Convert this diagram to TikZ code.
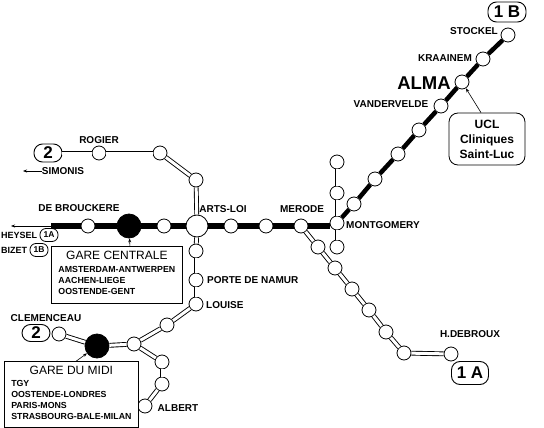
\documentclass[tikz,border=0pt]{standalone}
\usepackage{fontspec}
\setmainfont{Liberation Sans}
\usetikzlibrary{arrows.meta, positioning, calc}

\begin{document}
\begin{tikzpicture}[
  x=1pt, y=-1pt,
  stn/.style={draw, circle, fill=white, line width=0.8pt, inner sep=0pt, minimum size=14pt},
  stnBig/.style={stn, minimum size=22pt},
  stnGare/.style={stn, fill=black, minimum size=24pt},
  tube/.style={draw, line width=0.9pt, double=white, double distance=3pt},
  metro/.style={draw, line width=6pt},
  metroDiag/.style={draw, line width=4.5pt},
  pointer/.style={draw, line width=0.6pt, -{Stealth[length=4pt, width=3pt]}},
  lbl/.style={font=\fontsize{10}{12}\selectfont\bfseries, inner sep=0pt},
  lblSm/.style={font=\fontsize{9}{11}\selectfont\bfseries, inner sep=0pt, anchor=west},
  terminus/.style={draw, line width=0.9pt, rounded corners=8.5pt, inner sep=0pt, font=\fontsize{17}{18}\selectfont\bfseries},
  terminusSm/.style={draw, line width=0.8pt, rounded corners=6pt, inner sep=0pt, minimum width=18pt, minimum height=13pt, font=\fontsize{8.5}{9}\selectfont\bfseries},
  gare/.style={draw, line width=0.8pt, fill=white, inner sep=0pt, anchor=north west, font=\fontsize{8.8}{11}\selectfont\bfseries}
]
\useasboundingbox (0,0) rectangle (544,428);

% stations
\node[stn] (rogier) at (99,153) {};
\node[stn] (botanique) at (160,153) {};
\node[stn] (madou) at (196,180) {};
\node[stnBig] (artsloi) at (197,226) {};
\node[stn] (debrouckere) at (88,226) {};
\node[stnGare] (centrale) at (129,226) {};
\node[stn] (parc) at (164,226) {};
\node[stn] (maelbeek) at (231,226) {};
\node[stn] (schuman) at (266,226) {};
\node[stn] (merode) at (301,226) {};
\node[stn] (montgomery) at (337,223) {};
\node[stn] (north2) at (337,193) {};
\node[stn] (north1) at (337,162) {};
\node[stn] (south1) at (337,247) {};

\node[stn] (b1) at (354,204) {};
\node[stn] (b2) at (375,179) {};
\node[stn] (b3) at (398,154) {};
\node[stn] (b4) at (419,130) {};
\node[stn] (vandervelde) at (441,106) {};
\node[stn] (alma) at (462,82) {};
\node[stn] (kraainem) at (483,59) {};
\node[stn] (stockel) at (508,35) {};

\node[stn] (a1) at (318,247) {};
\node[stn] (a2) at (335,268) {};
\node[stn] (a3) at (352,289) {};
\node[stn] (a4) at (369,310) {};
\node[stn] (a5) at (386,332) {};
\node[stn] (a6) at (404,353) {};
\node[stn] (debroux) at (451,354) {};

\node[stn] (trone) at (196,251) {};
\node[stn] (porte) at (196,280) {};
\node[stn] (louise) at (196,304) {};
\node[stn] (hotel) at (167,325) {};
\node[stn] (porte2) at (134,344) {};
\node[stnGare] (midi) at (97,346) {};
\node[stn] (clemenceau) at (59,334) {};
\node[stn] (south2) at (162,362) {};
\node[stn] (south3) at (162,384) {};
\node[stn] (albert) at (145,406) {};

% terminus labels
\node[terminus, minimum width=28pt, minimum height=18pt] (ligne2) at (48,153) {2};
\node[terminus, minimum width=28pt, minimum height=17pt] (ligne2b) at (36,333) {2};
\node[terminus, minimum width=38pt, minimum height=20pt] (ligne1b) at (507,12) {1 B};
\node[terminus, minimum width=37pt, minimum height=23pt] (ligne1a) at (470,373) {1 A};
\node[terminusSm] (heysel1a) at (49,235) {1A};
\node[terminusSm] (bizet1b) at (39,250) {1B};

% station names
\node[lbl] (tRogier) at (99,140) {ROGIER};
\node[lbl] (tSimonis) at (63,171) {SIMONIS};
\node[lbl] (tBrouckere) at (79,208) {DE BROUCKERE};
\node[lbl] (tArts) at (223,209) {ARTS-LOI};
\node[lblSm] (tHeysel) at (1,235) {HEYSEL};
\node[lblSm] (tBizet) at (1,250) {BIZET};
\node[lbl] (tMerode) at (302,209) {MERODE};
\node[lbl] (tMontgomery) at (383,225) {MONTGOMERY};
\node[lbl, anchor=west] (tPorte) at (207,280) {PORTE DE NAMUR};
\node[lbl, anchor=west] (tLouise) at (206,305) {LOUISE};
\node[lbl] (tClemenceau) at (46,318) {CLEMENCEAU};
\node[lbl] (tAlbert) at (178,408) {ALBERT};
\node[lbl] (tDebroux) at (470,334) {H.DEBROUX};
\node[lbl] (tVander) at (391,104) {VANDERVELDE};
\node[lbl] (tKraainem) at (445,58) {KRAAINEM};
\node[lbl] (tStockel) at (474,31) {STOCKEL};
\node[font=\fontsize{18.5}{20}\selectfont\bfseries, inner sep=0pt] (tAlma) at (424,83) {ALMA};

% boxes
\node[gare, minimum width=131pt, minimum height=57pt] (boxCentrale) at (51,246) {%
  \begin{tabular}{@{}l@{}}
  \multicolumn{1}{c}{\fontsize{12}{14}\selectfont\mdseries GARE CENTRALE} \\[2pt]
  AMSTERDAM-ANTWERPEN \\
  AACHEN-LIEGE \\
  OOSTENDE-GENT \\
  \end{tabular}%
};

\node[gare, minimum width=134pt, minimum height=66pt] (boxMidi) at (4,361) {%
  \begin{tabular}{@{}l@{}}
  \multicolumn{1}{c}{\fontsize{12}{14}\selectfont\mdseries GARE DU MIDI\hspace{6pt}} \\[1pt]
  TGY \\
  OOSTENDE-LONDRES \\
  PARIS-MONS \\
  STRASBOURG-BALE-MILAN \\
  \end{tabular}%
};

\node[draw, line width=0.8pt, rounded corners=9pt, fill=white, align=center, inner sep=0pt,
  minimum width=76pt, minimum height=52pt, font=\fontsize{12}{15}\selectfont\bfseries] (ucl) at (487,139)
  {UCL\\Cliniques\\Saint-Luc};

% free ends
\coordinate (lineEnd) at (51,226);
\coordinate (heyselEnd) at (11,226);
\coordinate (simonisEnd) at (23,171);

% line 1
\draw[metro] (lineEnd) -- (debrouckere);
\draw[metro] (debrouckere) -- (centrale);
\draw[metro] (centrale) -- (parc);
\draw[metro] (parc) -- (artsloi);
\draw[metro] (artsloi) -- (maelbeek);
\draw[metro] (maelbeek) -- (schuman);
\draw[metro] (schuman) -- (merode);
\draw[metro] (merode) -- (montgomery.west |- merode);
\draw[metroDiag] (montgomery) -- (b1);
\draw[metroDiag] (b1) -- (b2);
\draw[metroDiag] (b2) -- (b3);
\draw[metroDiag] (b3) -- (b4);
\draw[metroDiag] (b4) -- (vandervelde);
\draw[metroDiag] (vandervelde) -- (alma);
\draw[metroDiag] (alma) -- (kraainem);
\draw[metroDiag] (kraainem) -- (stockel);

\draw[tube] (merode) -- (a1);
\draw[tube] (a1) -- (a2);
\draw[tube] (a2) -- (a3);
\draw[tube] (a3) -- (a4);
\draw[tube] (a4) -- (a5);
\draw[tube] (a5) -- (a6);
\draw[tube] (a6) -- (debroux);

% line 2
\draw[tube] (ligne2) -- (rogier);
\draw[tube] (rogier) -- (botanique);
\draw[tube] (botanique) -- (madou);
\draw[tube] (madou) -- (artsloi);
\draw[tube] (artsloi) -- (trone);
\draw[tube] (trone) -- (porte);
\draw[tube] (porte) -- (louise);
\draw[tube] (louise) -- (hotel);
\draw[tube] (hotel) -- (porte2);
\draw[tube] (porte2) -- (midi);
\draw[tube] (midi) -- (clemenceau);
\draw[tube] (porte2) -- (south2);
\draw[tube] (south2) -- (south3);
\draw[tube] (south3) -- (albert);
\draw[tube] (north1) -- (north2);
\draw[tube] (north2) -- (montgomery);
\draw[tube] (montgomery) -- (south1);

% pointers
\draw[pointer] (lineEnd) -- (heyselEnd);
\draw[pointer] (tSimonis) -- (simonisEnd);
\draw[pointer] ([xshift=13pt]boxCentrale.north) -- (centrale);
\draw[pointer] ([xshift=5pt]boxMidi.north) -- (midi);
\draw[pointer] ([xshift=-6pt]ucl.north) -- (alma);
\end{tikzpicture}
\end{document}
